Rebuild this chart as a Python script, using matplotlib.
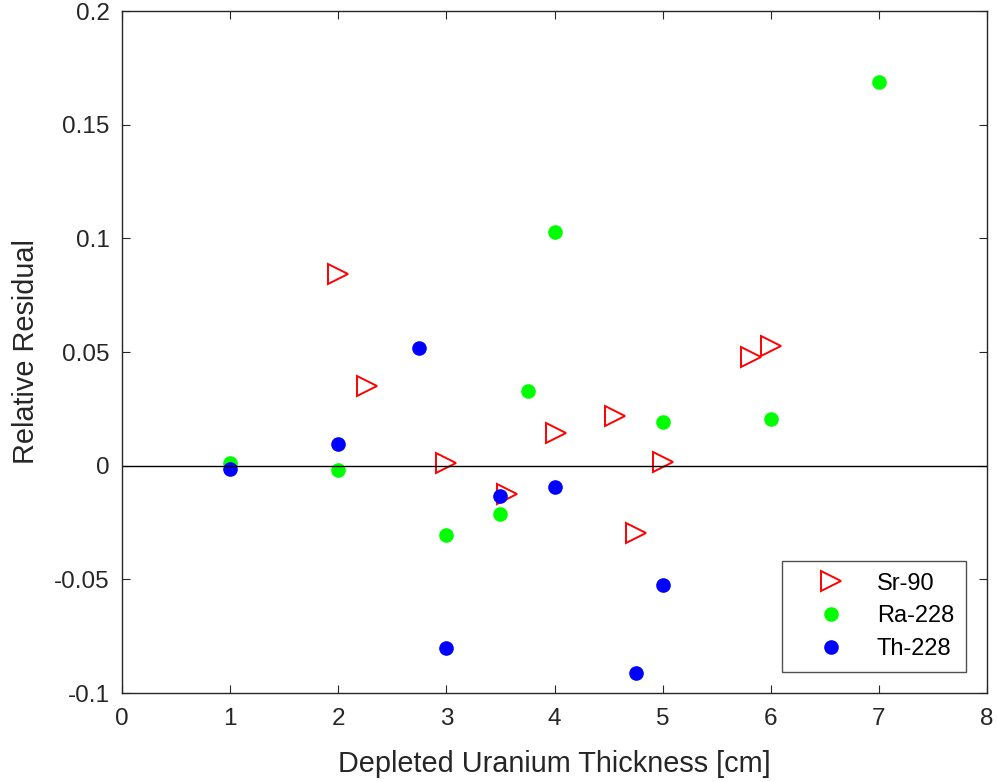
import numpy as np
import matplotlib.pyplot as plt

plt.rcParams['font.family'] = ['Liberation Sans', 'DejaVu Sans']

# Sr-90
sr_x = [2.0, 2.27, 3.0, 3.56, 4.01, 4.56, 4.75, 5.0, 5.82, 6.0]
sr_y = [0.0843, 0.0350, 0.0012, -0.0125, 0.0144, 0.0219, -0.0296, 0.0016, 0.0478, 0.0527]

# Ra-228
ra_x = [1.0, 2.0, 3.0, 3.5, 3.75, 4.0, 5.0, 6.0, 7.0]
ra_y = [0.0012, -0.0019, -0.0305, -0.0212, 0.0329, 0.1028, 0.0192, 0.0205, 0.1688]

# Th-228
th_x = [1.0, 2.0, 2.75, 3.0, 3.5, 4.0, 4.75, 5.0]
th_y = [-0.0015, 0.0096, 0.0518, -0.0802, -0.0133, -0.0094, -0.0912, -0.0525]

fig = plt.figure(figsize=(9.97, 7.82), dpi=100)
ax = fig.add_axes([0.1224, 0.1138, 0.8676, 0.8721])

ax.plot(sr_x, sr_y, '>', color='red', markerfacecolor='none', markersize=14,
        markeredgewidth=1.4, label='Sr-90')
ax.plot(ra_x, ra_y, 'o', color='#00ff00', markersize=9.5, label='Ra-228')
ax.plot(th_x, th_y, 'o', color='blue', markersize=9.5, label='Th-228')
ax.axhline(0, color='black', linewidth=1)

ax.set_xlim(0, 8)
ax.set_ylim(-0.1, 0.2)
ax.set_xticks(np.arange(0, 9, 1))
ax.set_yticks([-0.1, -0.05, 0, 0.05, 0.1, 0.15, 0.2])
ax.set_yticklabels(['-0.1', '-0.05', '0', '0.05', '0.1', '0.15', '0.2'])
ax.tick_params(direction='in', labelsize=17.5, colors='#262626', top=True, right=True,
               length=6)
ax.tick_params(axis='x', pad=11)
ax.tick_params(axis='y', pad=9)
for s in ax.spines.values():
    s.set_color('#262626')
    s.set_linewidth(1)

ax.set_xlabel('Depleted Uranium Thickness [cm]', fontsize=20.8, color='#262626', labelpad=14)
ax.set_ylabel('Relative Residual', fontsize=20.8, color='#262626', labelpad=10)

leg = ax.legend(loc='lower right', fontsize=17, fancybox=False, edgecolor='#262626',
                borderpad=0.5, labelspacing=0.45, handletextpad=0.4, handlelength=3.1,
                borderaxespad=0.9)
leg.get_frame().set_linewidth(1)

fig.savefig('out.png', dpi=100)
